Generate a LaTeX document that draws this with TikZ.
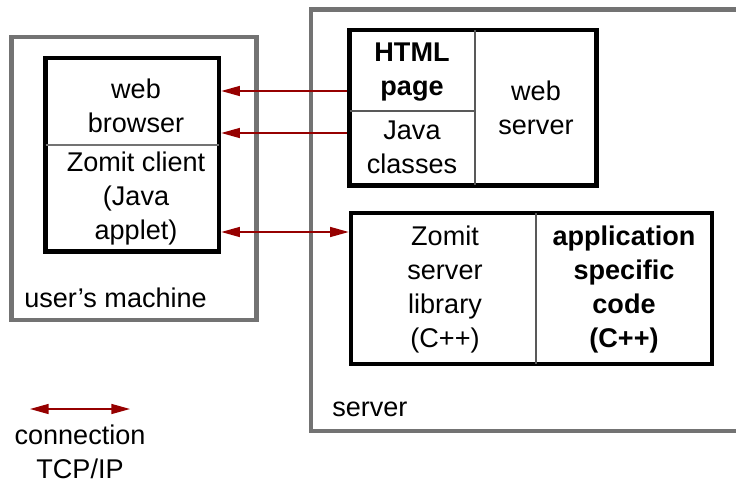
\documentclass[tikz,border=0pt]{standalone}
\usepackage{fontspec}
\setmainfont{Liberation Sans}
\usepackage{xcolor}
\usepackage{tikz}
\usetikzlibrary{positioning, arrows.meta}

\definecolor{framegray}{RGB}{115,115,115}
\definecolor{linkred}{RGB}{150,0,0}

\begin{document}
\begin{tikzpicture}[x=0.75pt, y=-0.75pt,
    every node/.style={font=\fontsize{20.3}{25.5}\selectfont, align=center, inner sep=0pt},
    area/.style={rectangle, draw=framegray, line width=3.4pt},
    box/.style={rectangle, draw=black, line width=3.4pt},
    boldtxt/.style={font=\fontsize{20.3}{25.5}\selectfont\bfseries},
    divider/.style={draw=black!65, line width=0.8pt, shorten <=1.7pt, shorten >=1.7pt},
    link/.style={draw=linkred, line width=1.1pt, -{Triangle[length=14pt, width=7.5pt]}},
    dlink/.style={link, {Triangle[length=14pt, width=7.5pt]}-{Triangle[length=14pt, width=7.5pt]}},
  ]
    \useasboundingbox (0,0) rectangle (736,482);

    % Machines
    \node[area, minimum width=183.75pt, minimum height=212.25pt] (user) at (134,178.5) {};
    \node[anchor=west] (userlbl) at (24,298) {user's machine};
    \node[area, minimum width=336.75pt, minimum height=316.1pt] (server) at (535.5,220.25) {};
    \node[anchor=west] (serverlbl) at (332,409) {server};

    % Browser side
    \node[box, minimum width=130.1pt, minimum height=145.1pt] (browser) at (132.25,154.75) {};
    \node (wbtxt) at (136,106) {web\\browser};
    \node (zctxt) at (136,198) {Zomit client\\(Java\\applet)};
    \draw[divider, draw=framegray] (browser.west |- 0,145) -- (browser.east |- 0,145);

    % Web server
    \node[box, minimum width=185.25pt, minimum height=116.6pt] (web) at (473,107.75) {};
    \node[boldtxt] (htmltxt) at (412,72.5) {HTML\\page};
    \node (jctxt) at (412,147.5) {Java\\classes};
    \node (wstxt) at (536,107.5) {web\\server};
    \draw[divider] (web.north -| 475,0) -- (web.south -| 475,0);
    \draw[divider, shorten >=0pt] (web.west |- 0,111) -- (475,111);

    % Application
    \node[box, minimum width=270.75pt, minimum height=113.25pt] (app) at (531.5,288.5) {};
    \node (zstxt) at (445,289) {Zomit\\server\\library\\(C++)};
    \node[boldtxt] (asctxt) at (624,289) {application\\specific\\code\\(C++)};
    \draw[divider] (app.north -| 536,0) -- (app.south -| 536,0);

    % Connections
    \draw[link] (web.west |- 0,91) -- (browser.east |- 0,91);
    \draw[link] (web.west |- 0,133) -- (browser.east |- 0,133);
    \draw[dlink] (browser.east |- 0,232) -- (app.west |- 0,232);

    % Legend
    \coordinate (legA) at (30,409);
    \coordinate (legB) at (130,409);
    \draw[dlink] (legA) -- (legB);
    \node (legtxt) at (80,451.5) {connection\\TCP/IP};

  \end{tikzpicture}
\end{document}
